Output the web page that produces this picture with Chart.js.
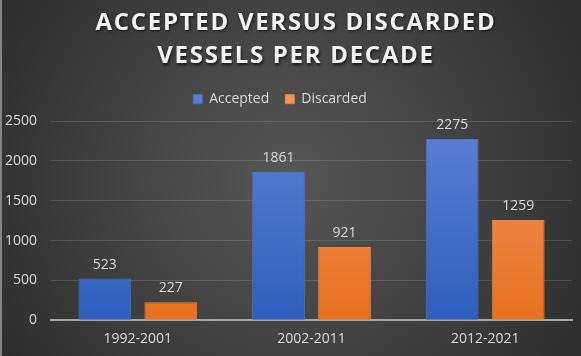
<!DOCTYPE html>
<html>
<head>
<meta charset="utf-8">
<script src="https://cdn.jsdelivr.net/npm/chart.js@4.4.0/dist/chart.umd.min.js"></script>
<style>
  html, body { margin: 0; padding: 0; background: #333; }
  #chart { display: block; }
</style>
</head>
<body>
<canvas id="chart" width="581" height="356"></canvas>
<script>
// data
const decades = ["1992-2001", "2002-2011", "2012-2021"];
const accepted = [523, 1861, 2275];
const discarded = [227, 921, 1259];
const seriesNames = ["Accepted", "Discarded"];
const titleLines = ["ACCEPTED VERSUS DISCARDED", "VESSELS PER DECADE"];

const textGrey = "#d9d9d9";

// vertical gradient for a bar series, from top colour to bottom colour
function barFill(top, bottom) {
  return function (ctx) {
    const area = ctx.chart.chartArea;
    if (!area) return bottom;
    const g = ctx.chart.ctx.createLinearGradient(0, area.top, 0, area.bottom);
    g.addColorStop(0, top);
    g.addColorStop(1, bottom);
    return g;
  };
}

// dark radial background + thin left edge
const backdrop = {
  id: "backdrop",
  beforeDraw(chart) {
    const c = chart.ctx;
    const w = chart.width, h = chart.height;
    c.save();
    const g = c.createRadialGradient(w / 2, h / 2, 0, w / 2, h / 2, w * 0.62);
    g.addColorStop(0, "#575757");
    g.addColorStop(1, "#2b2b2b");
    c.fillStyle = g;
    c.fillRect(0, 0, w, h);
    c.fillStyle = "#858585";
    c.fillRect(0, 0, 2, h);
    c.restore();
  }
};

// header tweaks: more room under the legend, spaced + shadowed title,
// and small horizontal nudges of title and legend
const headerTweak = {
  id: "headerTweak",
  beforeInit(chart) {
    const legend = chart.legend;
    const fit = legend.fit;
    legend.fit = function () {
      fit.call(this);
      this.height += 5;
    };
    const title = chart.titleBlock;
    const draw = title.draw;
    title.draw = function () {
      const c = this.ctx;
      c.save();
      c.letterSpacing = "1.7px";
      c.shadowColor = "rgba(0,0,0,0.65)";
      c.shadowBlur = 3;
      c.shadowOffsetX = 1;
      c.shadowOffsetY = 1.5;
      draw.call(this);
      c.restore();
    };
  },
  afterLayout(chart) {
    chart.titleBlock.left += 8;
    chart.titleBlock.right += 8;
    chart.legend.left -= 8;
    chart.legend.right -= 8;
  }
};

// value labels above each bar
const valueLabels = {
  id: "valueLabels",
  afterDatasetsDraw(chart) {
    const c = chart.ctx;
    c.save();
    c.font = "14px 'Open Sans'";
    c.fillStyle = textGrey;
    c.textAlign = "center";
    c.textBaseline = "bottom";
    chart.data.datasets.forEach((ds, i) => {
      chart.getDatasetMeta(i).data.forEach((bar, j) => {
        c.fillText(ds.data[j], bar.x, bar.y - 7);
      });
    });
    c.restore();
  }
};

new Chart("chart", {
  type: "bar",
  data: {
    labels: decades,
    datasets: [{
      label: seriesNames[0],
      data: accepted,
      backgroundColor: barFill("#5b80d2", "#2f5fbe"),
      borderColor: "#4a70c4",
      borderWidth: 1
    }, {
      label: seriesNames[1],
      data: discarded,
      backgroundColor: barFill("#f19561", "#e8701e"),
      borderColor: "#ec8240",
      borderWidth: 1
    }]
  },
  options: {
    responsive: false,
    animation: false,
    categoryPercentage: 0.76,
    barPercentage: 0.8,
    layout: { padding: { left: 4, right: 9, top: 4, bottom: 7 } },
    plugins: {
      title: {
        display: true,
        text: titleLines,
        color: "#f2f2f2",
        font: { family: "'Open Sans'", size: 24, weight: "bold", lineHeight: 1.4 },
        padding: { top: 2, bottom: 3 }
      },
      legend: {
        labels: {
          color: textGrey,
          font: { family: "'Open Sans'", size: 14 },
          boxWidth: 9,
          boxHeight: 9,
          padding: 16
        }
      },
      tooltip: { enabled: false }
    },
    scales: {
      x: {
        grid: { display: false },
        border: { display: true, color: "#a6a6a6", width: 2 },
        ticks: { color: textGrey, font: { family: "'Open Sans'", size: 14 }, padding: 2 }
      },
      y: {
        min: 0,
        max: 2500,
        ticks: {
          stepSize: 500,
          color: textGrey,
          font: { family: "'Open Sans'", size: 14 },
          padding: 14,
          callback: (v) => String(v)
        },
        grid: { color: "rgba(255,255,255,0.13)", drawTicks: false },
        border: { display: false },
        // padding is counted twice by default; keep labels snug to the left edge
        afterFit: (scale) => { scale.width -= 13; }
      }
    }
  },
  plugins: [backdrop, headerTweak, valueLabels]
});
</script>
</body>
</html>
